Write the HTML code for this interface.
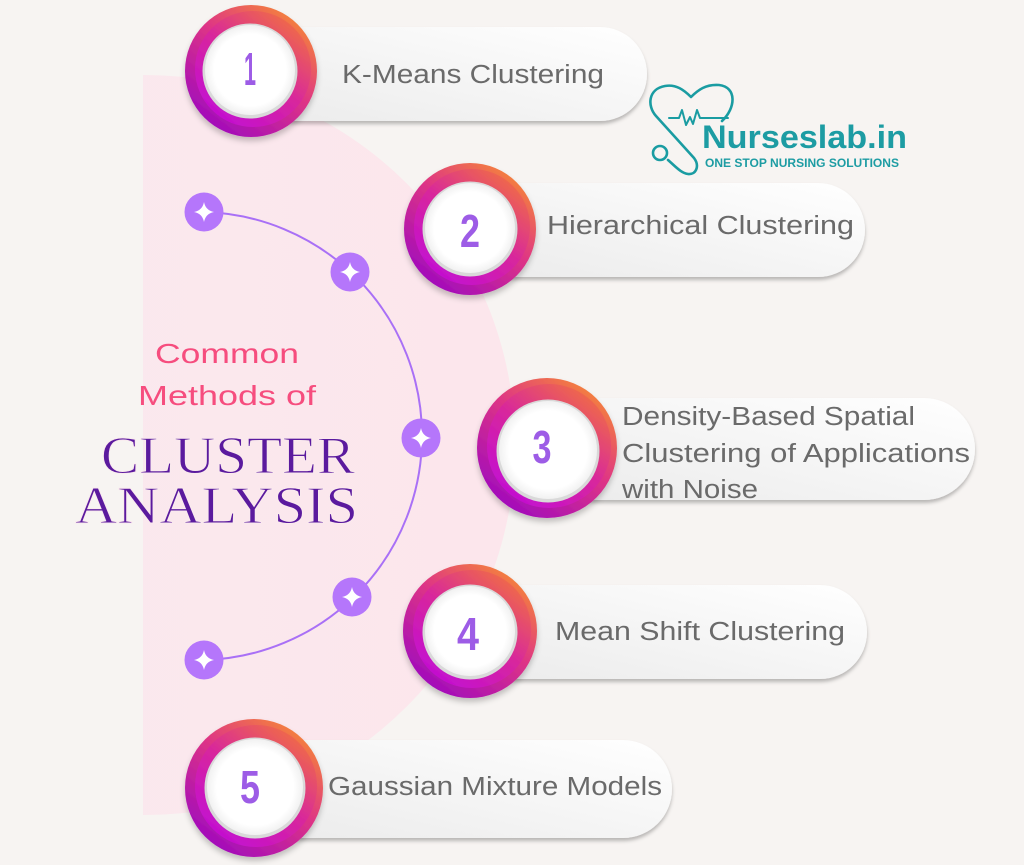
<!DOCTYPE html>
<html>
<head>
<meta charset="utf-8">
<style>
html,body{margin:0;padding:0;background:#f7f4f2;}
svg{display:block;}
</style>
</head>
<body>
<svg width="1024" height="865" viewBox="0 0 1024 865" xmlns="http://www.w3.org/2000/svg">
<defs>
  <linearGradient id="halo" x1="0" y1="0" x2="1" y2="0">
    <stop offset="0" stop-color="#f9f0f1"/>
    <stop offset="0.3" stop-color="#fae9ee"/>
    <stop offset="1" stop-color="#fce6ec"/>
  </linearGradient>
  <clipPath id="haloClip"><rect x="143" y="0" width="600" height="865"/></clipPath>
  <linearGradient id="ringO" x1="0.85" y1="0.08" x2="0.2" y2="0.92">
    <stop offset="0" stop-color="#f5843a"/>
    <stop offset="0.45" stop-color="#de3486"/>
    <stop offset="1" stop-color="#a20cbb"/>
  </linearGradient>
  <linearGradient id="ringI" x1="0.85" y1="0.08" x2="0.2" y2="0.92">
    <stop offset="0" stop-color="#f06c46"/>
    <stop offset="0.5" stop-color="#d8279c"/>
    <stop offset="1" stop-color="#c30fd0"/>
  </linearGradient>
  <radialGradient id="disc" cx="0.5" cy="0.5" r="0.5">
    <stop offset="0.8" stop-color="#ffffff"/>
    <stop offset="1" stop-color="#f1f1f1"/>
  </radialGradient>
  <linearGradient id="pill" x1="0" y1="1" x2="1" y2="0">
    <stop offset="0" stop-color="#ebebeb"/>
    <stop offset="0.6" stop-color="#f7f7f7"/>
    <stop offset="1" stop-color="#ffffff"/>
  </linearGradient>
  <filter id="sh" x="-20%" y="-20%" width="140%" height="150%">
    <feDropShadow dx="0" dy="4" stdDeviation="3" flood-color="#000" flood-opacity="0.22"/>
  </filter>
  <filter id="psh" x="-5%" y="-10%" width="110%" height="130%">
    <feDropShadow dx="0" dy="3" stdDeviation="1.8" flood-color="#000" flood-opacity="0.25"/>
  </filter>
  <g id="spark">
    <path d="M0,-10 Q1.6,-1.6 10,0 Q1.6,1.6 0,10 Q-1.6,1.6 -10,0 Q-1.6,-1.6 0,-10Z" fill="#ffffff"/>
  </g>
</defs>

<!-- background -->
<rect width="1024" height="865" fill="#f7f4f2"/>

<!-- pink half-disc halo -->
<g clip-path="url(#haloClip)">
  <circle cx="145" cy="445" r="370" fill="url(#halo)"/>
</g>

<!-- arc with stars -->
<path d="M203,212 A224,224 0 0 1 422,436 A224,224 0 0 1 203,660" fill="none" stroke="#a970f6" stroke-width="2"/>
<g>
  <circle cx="204" cy="212" r="19.5" fill="#b576fb"/><use href="#spark" x="204" y="212"/>
  <circle cx="350" cy="272" r="19.5" fill="#b576fb"/><use href="#spark" x="350" y="272"/>
  <circle cx="421" cy="438" r="19.5" fill="#b576fb"/><use href="#spark" x="421" y="438"/>
  <circle cx="352" cy="597" r="19.5" fill="#b576fb"/><use href="#spark" x="352" y="597"/>
  <circle cx="204" cy="660" r="19.5" fill="#b576fb"/><use href="#spark" x="204" y="660"/>
</g>

<!-- title -->
<g font-family="Liberation Sans, sans-serif" fill="#f64d7e" font-size="28">
  <text x="155" y="363" textLength="144" lengthAdjust="spacingAndGlyphs">Common</text>
  <text x="138" y="405" textLength="178" lengthAdjust="spacingAndGlyphs">Methods of</text>
</g>
<g font-family="Liberation Serif, serif" fill="#5b1a9e" font-size="53" stroke="#faeaee" stroke-width="0.9">
  <text x="101" y="473" textLength="254" lengthAdjust="spacingAndGlyphs">CLUSTER</text>
  <text x="75" y="523" textLength="283" lengthAdjust="spacingAndGlyphs">ANALYSIS</text>
</g>

<!-- logo -->
<g fill="none" stroke="#1a9ca2" stroke-width="2.6" stroke-linecap="round" stroke-linejoin="round">
  <path d="M722,121 C736,108 737,87 719,85 C706,84 698,90 691,97 C684,90 676,84 665,86 C648,89 647,106 656,116 L694,158 C700,166 696,175 688,174 C681,173 676,167 668,160"/>
  <circle cx="660" cy="153" r="7"/>
  <polyline points="669,118 679,118 682,110 686,125 690,117 693,124 697,110 700,118 728,118" stroke-width="2"/>
</g>
<g font-family="Liberation Sans, sans-serif" font-weight="bold" fill="#1d9ca3">
  <text x="702" y="148" font-size="32" textLength="205" lengthAdjust="spacingAndGlyphs">Nurseslab.in</text>
  <text x="705" y="167" font-size="11.5" textLength="194" lengthAdjust="spacingAndGlyphs">ONE STOP NURSING SOLUTIONS</text>
</g>

<!-- pills -->
<g filter="url(#psh)" fill="url(#pill)">
  <rect x="250" y="27" width="397" height="94" rx="47"/>
  <rect x="470" y="183" width="395" height="94" rx="47"/>
  <rect x="547" y="398" width="428" height="102" rx="51"/>
  <rect x="470" y="585" width="397" height="94" rx="47"/>
  <rect x="254" y="740" width="418" height="98" rx="49"/>
</g>

<!-- pill texts -->
<g font-family="Liberation Sans, sans-serif" fill="#6a6a6a" font-size="25.5">
  <text x="342" y="83" textLength="262" lengthAdjust="spacingAndGlyphs">K-Means Clustering</text>
  <text x="547" y="234" textLength="307" lengthAdjust="spacingAndGlyphs">Hierarchical Clustering</text>
  <text x="622" y="425" textLength="293" lengthAdjust="spacingAndGlyphs">Density-Based Spatial</text>
  <text x="622" y="462" textLength="348" lengthAdjust="spacingAndGlyphs">Clustering of Applications</text>
  <text x="622" y="498" textLength="136" lengthAdjust="spacingAndGlyphs">with Noise</text>
  <text x="555" y="640" textLength="290" lengthAdjust="spacingAndGlyphs">Mean Shift Clustering</text>
  <text x="328" y="795" textLength="334" lengthAdjust="spacingAndGlyphs">Gaussian Mixture Models</text>
</g>

<!-- circles -->
<g>
  <g filter="url(#sh)">
    <circle cx="251" cy="71" r="66" fill="url(#ringO)"/>
    <circle cx="253" cy="69" r="58" fill="url(#ringI)"/>
  </g>
  <circle cx="250" cy="71" r="47.5" fill="#d9d9d9"/>
  <circle cx="250" cy="70" r="45" fill="url(#disc)"/>

  <g filter="url(#sh)">
    <circle cx="470" cy="229" r="66" fill="url(#ringO)"/>
    <circle cx="472" cy="227" r="58" fill="url(#ringI)"/>
  </g>
  <circle cx="470" cy="229" r="47.5" fill="#d9d9d9"/>
  <circle cx="470" cy="228" r="45" fill="url(#disc)"/>

  <g filter="url(#sh)">
    <circle cx="547" cy="448" r="70" fill="url(#ringO)"/>
    <circle cx="549" cy="446" r="62" fill="url(#ringI)"/>
  </g>
  <circle cx="548" cy="451" r="51.5" fill="#d9d9d9"/>
  <circle cx="548" cy="450" r="49" fill="url(#disc)"/>

  <g filter="url(#sh)">
    <circle cx="470" cy="631" r="67" fill="url(#ringO)"/>
    <circle cx="472" cy="629" r="59" fill="url(#ringI)"/>
  </g>
  <circle cx="470" cy="632" r="47.5" fill="#d9d9d9"/>
  <circle cx="470" cy="631" r="45" fill="url(#disc)"/>

  <g filter="url(#sh)">
    <circle cx="254" cy="788" r="69" fill="url(#ringO)"/>
    <circle cx="256" cy="786" r="61" fill="url(#ringI)"/>
  </g>
  <circle cx="255" cy="788" r="50.5" fill="#d9d9d9"/>
  <circle cx="255" cy="787" r="48" fill="url(#disc)"/>
</g>

<!-- numbers -->
<g font-family="Liberation Sans, sans-serif" font-weight="bold" fill="#9d5ce6" font-size="46" text-anchor="middle">
  <text x="250" y="85" textLength="12" lengthAdjust="spacingAndGlyphs">1</text>
  <text x="470" y="247" textLength="20" lengthAdjust="spacingAndGlyphs">2</text>
  <text x="542" y="463" textLength="19" lengthAdjust="spacingAndGlyphs">3</text>
  <text x="468" y="650" textLength="22" lengthAdjust="spacingAndGlyphs">4</text>
  <text x="250" y="803" textLength="20" lengthAdjust="spacingAndGlyphs">5</text>
</g>
</svg>
</body>
</html>
